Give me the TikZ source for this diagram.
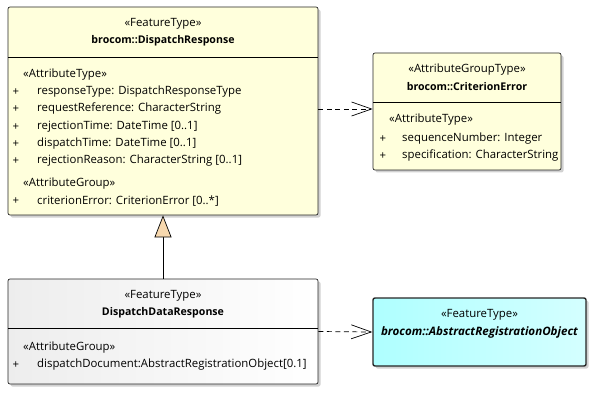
\documentclass[tikz,border=0pt]{standalone}
\usepackage{fontspec}
\setmainfont{Open Sans}
\usetikzlibrary{arrows.meta,shadows}
\definecolor{yel}{HTML}{FFFFDC}
\definecolor{cyn}{HTML}{C2FFFF}
\definecolor{tri}{HTML}{F7D8AE}
\newcommand{\bnm}[1]{{\fontsize{10.6}{12}\selectfont\bfseries #1}}
\newcommand{\bin}[1]{{\fontsize{11.6}{13}\selectfont\bfseries\itshape #1}}
\begin{document}
\begin{tikzpicture}[x=1pt,y=-1pt,
  every node/.style={font=\fontsize{11.4}{13}\selectfont, inner sep=0pt},
  cls/.style={draw=black!85, line width=0.7pt, rounded corners=2pt, inner sep=0pt,
     drop shadow={shadow xshift=2.5pt, shadow yshift=-2.5pt, opacity=0.18, fill=black}},
  hdr/.style={anchor=center},
  attr/.style={anchor=west},
  plus/.style={anchor=center},
  dep/.style={draw, line width=0.7pt, dash pattern=on 5pt off 3.5pt,
     -{Straight Barb[length=20pt,width=14pt,line width=0.7pt]}},
  gen/.style={draw, line width=0.8pt, -{Triangle[length=22pt,width=17pt,fill=tri,line width=0.7pt]}}
]
\useasboundingbox (0,0) rectangle (599,414);

% ---- boxes
\node[cls, fill=yel, minimum width=310pt, minimum height=208pt] (b1) at (163,111) {};
\node[cls, fill=yel, minimum width=188pt, minimum height=117pt] (b2) at (467,111.5) {};
\node[cls, left color=black!7, right color=white, minimum width=310pt, minimum height=105pt] (b3) at (163,331.5) {};
\node[cls, line width=1.4pt, left color=cyn!90!cyan, right color=cyn!70!white, minimum width=213pt, minimum height=68pt] (b4) at (479.5,332) {};

% separators
\coordinate (s1l) at (8,57); \coordinate (s1r) at (318,57);
\draw[line width=0.7pt] (s1l) -- (s1r);
\coordinate (s2l) at (373,102); \coordinate (s2r) at (561,102);
\draw[line width=0.7pt] (s2l) -- (s2r);
\coordinate (s3l) at (8,328); \coordinate (s3r) at (318,328);
\draw[line width=0.7pt] (s3l) -- (s3r);

% ---- box 1 text
\node[hdr] (t1a) at (163,24) {«FeatureType»};
\node[hdr] (t1b) at (163,41) {\bnm{brocom::DispatchResponse}};
\node[attr] (t1c) at (23,75) {«AttributeType»};
\node[plus] (p11) at (16,92) {+};
\node[attr] (a11) at (37,92) {responseType: DispatchResponseType};
\node[plus] (p12) at (16,109) {+};
\node[attr] (a12) at (37,109) {requestReference: CharacterString};
\node[plus] (p13) at (16,127) {+};
\node[attr] (a13) at (37,127) {rejectionTime: DateTime [0..1]};
\node[plus] (p14) at (16,144) {+};
\node[attr] (a14) at (37,144) {dispatchTime: DateTime [0..1]};
\node[plus] (p15) at (16,161) {+};
\node[attr] (a15) at (37,161) {rejectionReason: CharacterString [0..1]};
\node[attr] (t1d) at (23,184) {«AttributeGroup»};
\node[plus] (p16) at (16,201) {+};
\node[attr] (a16) at (37,201) {criterionError: CriterionError [0..*]};

% ---- box 2 text
\node[hdr] (t2a) at (467,70) {«AttributeGroupType»};
\node[hdr] (t2b) at (467,87) {\bnm{brocom::CriterionError}};
\node[attr] (t2c) at (389,120) {«AttributeType»};
\node[plus] (p21) at (383,139) {+};
\node[attr] (a21) at (402,139) {sequenceNumber: Integer};
\node[plus] (p22) at (383,156) {+};
\node[attr] (a22) at (402,156) {specification: CharacterString};

% ---- box 3 text
\node[hdr] (t3a) at (163,296) {«FeatureType»};
\node[hdr] (t3b) at (163,313) {\bnm{DispatchDataResponse}};
\node[attr] (t3c) at (23,348) {«AttributeGroup»};
\node[plus] (p31) at (16,365) {+};
\node[attr] (a31) at (37,365) {dispatchDocument:AbstractRegistrationObject[0.1]};

% ---- box 4 text
\node[hdr] (t4a) at (479.5,315) {«FeatureType»};
\node[hdr] (t4b) at (479.5,332) {\bin{brocom::AbstractRegistrationObject}};

% ---- connectors
\draw[dep] ([yshift=2pt]b1.east) -- ([yshift=2.5pt]b2.west);
\draw[dep] (b3.east) -- (b4.west);
\draw[gen] (b3.north) -- (b1.south);
\end{tikzpicture}
\end{document}
